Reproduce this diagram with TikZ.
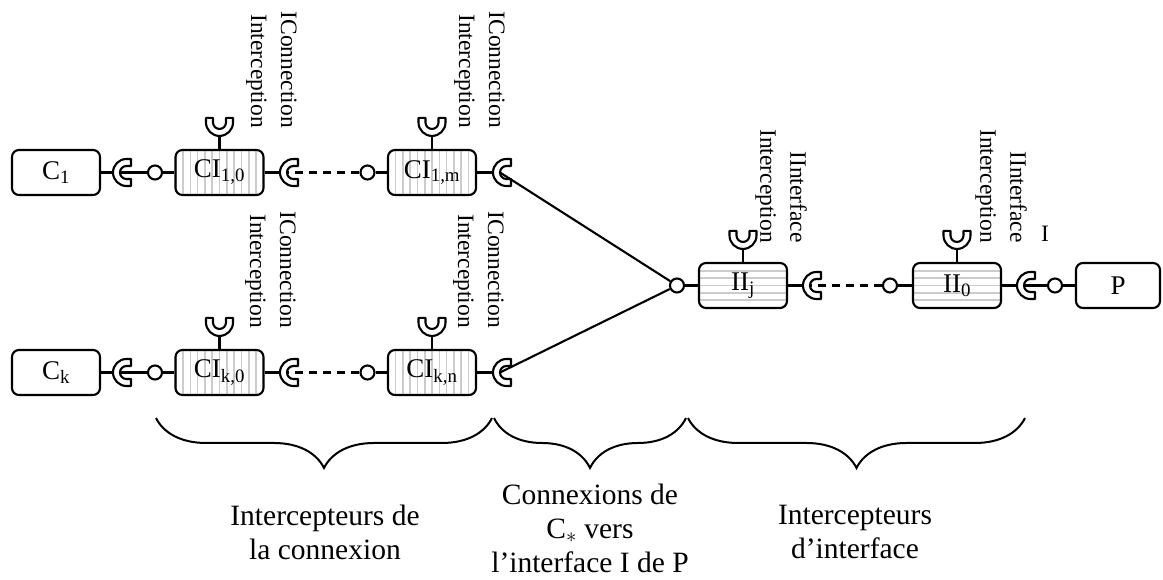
\documentclass[tikz,border=0pt]{standalone}
\usepackage{fontspec}
\setmainfont{Liberation Serif}
\usetikzlibrary{decorations.pathreplacing,calc}
\pgfdeclarelayer{bg}
\pgfsetlayers{bg,main}
\tikzset{
  stripe/.style={line width=1.6pt, draw=gray!40},
  box/.style={draw, line width=2.1pt, rounded corners=7pt, minimum width=88pt, minimum height=45pt, inner sep=0pt, fill=white, font=\fontsize{27}{30}\selectfont},
  cibox/.style={box, path picture={\foreach \k in {-6,...,6}{\draw[stripe] ([xshift=\k*7.3pt]path picture bounding box.north) -- ([xshift=\k*7.3pt]path picture bounding box.south);}}},
  iibox/.style={box, path picture={\foreach \k in {-3,...,3}{\draw[stripe] ([yshift=\k*7.3pt]path picture bounding box.west) -- ([yshift=\k*7.3pt]path picture bounding box.east);}}},
  ball/.style={circle, draw, line width=2.1pt, fill=white, minimum size=14pt, inner sep=0pt},
  conn/.style={line width=2.1pt},
  dconn/.style={conn, dash pattern=on 8pt off 6pt},
  lbl/.style={rotate=-90, anchor=north east, align=right, inner sep=0pt, font=\fontsize{23.5}{30}\selectfont},
  caption/.style={align=center, inner sep=0pt, font=\fontsize{29.5}{34}\selectfont},
  brc/.style={line width=2pt, decorate, decoration={brace, mirror, amplitude=50pt}},
  sockshape/.style={draw, line width=2.1pt, fill=white, line join=round},
  sock/.pic={
    \draw[sockshape] (4.5,13.5) -- (0,13.5) arc[start angle=90,end angle=270,radius=13.5] -- (4.5,-13.5) -- (4.5,-6.5) -- (0,-6.5) arc[start angle=270,end angle=90,radius=6.5] -- (4.5,6.5) -- cycle;
    \coordinate (-in) at (-6.5,0);
    \coordinate (-back) at (-13.5,0);
  }
}
\begin{document}
\begin{tikzpicture}[x=1pt,y=1pt]
\useasboundingbox (0,0) rectangle (1163,580);

% row 1
\node[box] (c1) at (56,407.5) {C\textsubscript{1}};
\node[cibox] (ci10) at (219.5,407.5) {CI\textsubscript{1,0}};
\node[cibox] (ci1m) at (432,407.5) {CI\textsubscript{1,m}};
\node[ball] (b10) at (155,407.5) {};
\node[ball] (b1m) at (367.5,407.5) {};
\pic (s1) at (126.5,407.5) {sock};
\pic (s10) at (293.5,407.5) {sock};
\pic (s1m) at (506.5,407.5) {sock};
\pic[rotate=90] (u10) at ([yshift=26.5pt]ci10.north) {sock};
\pic[rotate=90] (u1m) at ([yshift=26.5pt]ci1m.north) {sock};

% row 2
\node[box] (ck) at (56,207.5) {C\textsubscript{k}};
\node[cibox] (cik0) at (219.5,207.5) {CI\textsubscript{k,0}};
\node[cibox] (cikn) at (432,207.5) {CI\textsubscript{k,n}};
\node[ball] (bk0) at (155,207.5) {};
\node[ball] (bkn) at (367.5,207.5) {};
\pic (sk) at (126.5,207.5) {sock};
\pic (sk0) at (293.5,207.5) {sock};
\pic (skn) at (506.5,207.5) {sock};
\pic[rotate=90] (uk0) at ([yshift=26.5pt]cik0.north) {sock};
\pic[rotate=90] (ukn) at ([yshift=26.5pt]cikn.north) {sock};

% interface row
\node[ball] (bj) at (677,294.5) {};
\node[iibox] (iij) at (743,294.5) {II\textsubscript{j}};
\pic (sj) at (816.5,294.5) {sock};
\node[ball] (b0) at (890,294.5) {};
\node[iibox] (ii0) at (957,294.5) {II\textsubscript{0}};
\pic (s0) at (1030.5,294.5) {sock};
\node[ball] (bp) at (1055,294.5) {};
\node[box, minimum width=84pt] (p) at (1118,294.5) {P};
\pic[rotate=90] (uj) at ([yshift=26.5pt]iij.north) {sock};
\pic[rotate=90] (u0) at ([yshift=26.5pt]ii0.north) {sock};

\begin{pgfonlayer}{bg}
\draw[conn] (c1) -- (s1-back);
\draw[conn] (b10) -- (s1-in);
\draw[conn] (b10) -- (ci10);
\draw[conn] (ci10) -- (s10-back);
\draw[dconn] (b1m) -- (s10-in);
\draw[conn] (b1m) -- (ci1m);
\draw[conn] (ci1m) -- (s1m-back);
\draw[conn] (s1m-in) -- (bj);
\draw[conn] (ci10) -- (u10-back);
\draw[conn] (ci1m) -- (u1m-back);

\draw[conn] (ck) -- (sk-back);
\draw[conn] (bk0) -- (sk-in);
\draw[conn] (bk0) -- (cik0);
\draw[conn] (cik0) -- (sk0-back);
\draw[dconn] (bkn) -- (sk0-in);
\draw[conn] (bkn) -- (cikn);
\draw[conn] (cikn) -- (skn-back);
\draw[conn] (skn-in) -- (bj);
\draw[conn] (cik0) -- (uk0-back);
\draw[conn] (cikn) -- (ukn-back);

\draw[conn] (bj) -- (iij);
\draw[conn] (iij) -- (sj-back);
\draw[dconn] (b0) -- (sj-in);
\draw[conn] (b0) -- (ii0);
\draw[conn] (ii0) -- (s0-back);
\draw[conn] (bp) -- (s0-in);
\draw[conn] (bp) -- (p);
\draw[conn] (iij) -- (uj-back);
\draw[conn] (ii0) -- (u0-back);
\end{pgfonlayer}

% rotated labels
\node[lbl] (l10) at (297,452) {IConnection\\Interception};
\node[lbl] (l1m) at (505,452) {IConnection\\Interception};
\node[lbl] (lk0) at (296,252) {IConnection\\Interception};
\node[lbl] (lkn) at (504,252) {IConnection\\Interception};
\node[lbl] (lj) at (807,337) {IInterface\\Interception};
\node[lbl] (l0) at (1027,337) {IInterface\\Interception};
\node[anchor=base, inner sep=0pt, font=\fontsize{23.5}{30}\selectfont] (li) at (1045,338) {I};

% braces
\draw[brc] (156,162) -- (492,162);
\draw[brc] (494,162) -- (686,162);
\draw[brc] (688,162) -- (1025,162);

% captions
\node[caption] (t1) at (325,48) {Intercepteurs de\\la connexion};
\node[caption] (t2) at (590,51.5) {Connexions de\\C\textsubscript{$*$} vers\\l'interface I de P};
\node[caption] (t3) at (855,48) {Intercepteurs\\d'interface};
\end{tikzpicture}
\end{document}
